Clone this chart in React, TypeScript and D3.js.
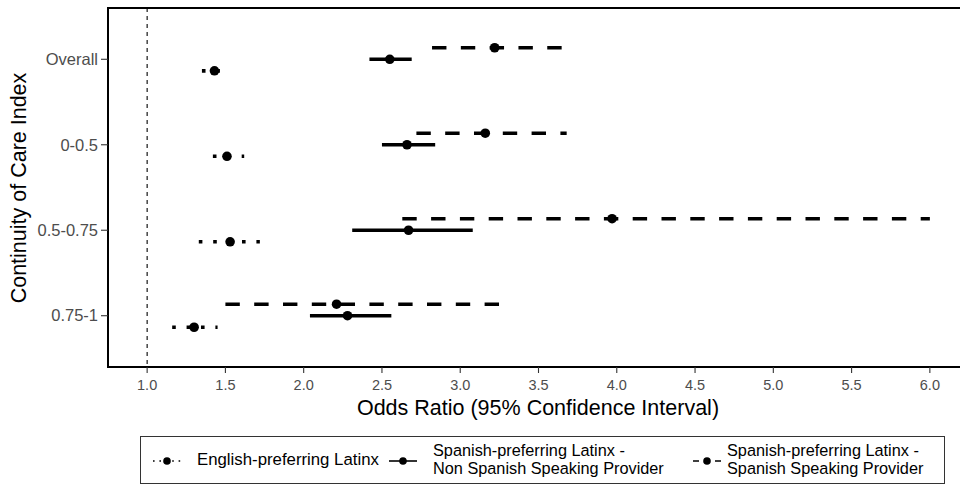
import React from 'react';
import * as d3 from 'd3';

const categories = ['Overall', '0-0.5', '0.5-0.75', '0.75-1'];

const seriesNames = [
  'English-preferring Latinx',
  'Spanish-preferring Latinx - Non Spanish Speaking Provider',
  'Spanish-preferring Latinx - Spanish Speaking Provider',
];

// odds ratio point estimates and 95% CI per category
const englishOR = [1.43, 1.51, 1.53, 1.3];
const englishLo = [1.35, 1.42, 1.33, 1.16];
const englishHi = [1.48, 1.62, 1.72, 1.45];

const nonSpanishOR = [2.55, 2.66, 2.67, 2.28];
const nonSpanishLo = [2.42, 2.5, 2.31, 2.04];
const nonSpanishHi = [2.69, 2.84, 3.08, 2.56];

const spanishOR = [3.22, 3.16, 3.97, 2.21];
const spanishLo = [2.82, 2.72, 2.63, 1.5];
const spanishHi = [3.65, 3.68, 6.0, 3.25];

const xTicks = [1.0, 1.5, 2.0, 2.5, 3.0, 3.5, 4.0, 4.5, 5.0, 5.5, 6.0];

const W = 960;
const H = 486;
const panel = { left: 108, top: 8, bottom: 367, right: 969 };
const LW = 3.6;
const FONT = '"Liberation Sans", Arial, sans-serif';

const series = [
  { name: seriesNames[0], or: englishOR, lo: englishLo, hi: englishHi, dash: `${LW},${LW * 3}`, dodge: 1 },
  { name: seriesNames[1], or: nonSpanishOR, lo: nonSpanishLo, hi: nonSpanishHi, dash: null, dodge: 0 },
  { name: seriesNames[2], or: spanishOR, lo: spanishLo, hi: spanishHi, dash: `${LW * 4},${LW * 4}`, dodge: -1 },
];

// legend labels (wrapped as in the original)
const legendLabels = [
  ['English-preferring Latinx'],
  ['Spanish-preferring Latinx -', 'Non Spanish Speaking Provider'],
  ['Spanish-preferring Latinx -', 'Spanish Speaking Provider'],
];

export default function App() {
  const x = d3.scaleLinear().domain([0.75, 6.25]).range([panel.left, panel.right]);
  const y = d3.scalePoint<string>().domain(categories).range([panel.top, panel.bottom]).padding(0.6);
  const dodgeStep = y.step() * 0.135;

  const legendPos = [
    { kx: 153, tx: 197 },
    { kx: 389, tx: 433 },
    { kx: 693, tx: 727 },
  ];
  const legendDash = ['1.6,4.8', undefined, '6,5'];

  return (
    <svg width={W} height={H} style={{ position: 'absolute', left: 0, top: 0, background: '#fff' }} fontFamily={FONT}>
      <rect x={0} y={0} width={W} height={H} fill="#fff" />
      {/* reference line */}
      <line x1={x(1)} x2={x(1)} y1={panel.top} y2={panel.bottom} stroke="#000" strokeWidth={1.1} strokeDasharray="4,4" />

      {series.map((s, si) => (
        <g key={si}>
          {categories.map((c, i) => {
            const cy = (y(c) as number) + s.dodge * dodgeStep;
            return (
              <g key={c}>
                <line x1={x(s.lo[i])} x2={x(s.hi[i])} y1={cy} y2={cy} stroke="#000" strokeWidth={LW}
                  strokeDasharray={s.dash || undefined} />
                <circle cx={x(s.or[i])} cy={cy} r={4.8} fill="#000" />
              </g>
            );
          })}
        </g>
      ))}

      {/* panel border */}
      <path d={`M${panel.right},${panel.top}H${panel.left}V${panel.bottom}H${panel.right}`} fill="none" stroke="#000" strokeWidth={2} />

      {/* y axis */}
      {categories.map((c) => (
        <g key={c} transform={`translate(0,${y(c)})`}>
          <line x1={panel.left - 7} x2={panel.left} stroke="#333" strokeWidth={1.1} />
          <text x={panel.left - 10} dy="0.35em" textAnchor="end" fontSize={16.5} fill="#4D4D4D">{c}</text>
        </g>
      ))}

      {/* x axis */}
      {xTicks.map((t) => (
        <g key={t} transform={`translate(${x(t)},0)`}>
          <line y1={panel.bottom} y2={panel.bottom + 6} stroke="#333" strokeWidth={1.1} />
          <text y={390} textAnchor="middle" fontSize={14.5} fill="#4D4D4D">{d3.format('.1f')(t)}</text>
        </g>
      ))}

      <text x={538} y={415} textAnchor="middle" fontSize={21.5} fill="#000">Odds Ratio (95% Confidence Interval)</text>
      <text transform="translate(26,188) rotate(-90)" textAnchor="middle" fontSize={21.5} fill="#000">Continuity of Care Index</text>

      {/* legend */}
      <g>
        <rect x={140.5} y={436.5} width={804} height={47} fill="#fff" stroke="#333" strokeWidth={1} />
        {series.map((s, i) => {
          const p = legendPos[i];
          const lines = legendLabels[i];
          return (
            <g key={s.name}>
              <line x1={p.kx} x2={p.kx + 28} y1={461} y2={461} stroke="#000" strokeWidth={1.6}
                strokeDasharray={legendDash[i]} />
              <circle cx={p.kx + 14} cy={461} r={3.8} fill="#000" />
              {lines.map((t, j) => (
                <text key={j} x={p.tx} y={lines.length === 1 ? 465.3 : 455.5 + j * 18.4}
                  fontSize={lines.length === 1 ? 16.8 : 16.3} fill="#000">{t}</text>
              ))}
            </g>
          );
        })}
      </g>
    </svg>
  );
}
